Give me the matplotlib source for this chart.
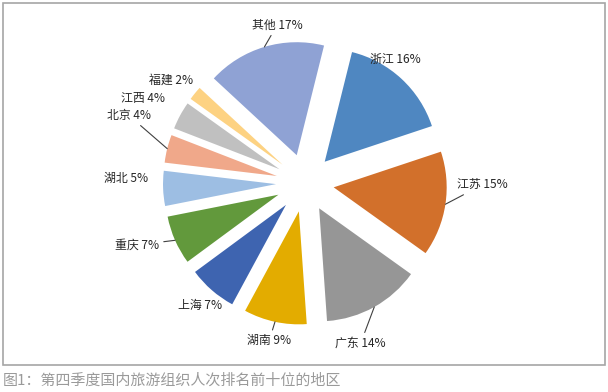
import numpy as np
import matplotlib
matplotlib.use('Agg')
import matplotlib.pyplot as plt
from matplotlib.patches import Rectangle

plt.rcParams['font.family'] = ['Noto Sans CJK SC', 'DejaVu Sans']

# share of domestic tour groups, Q4, top ten regions + others
regions = ['浙江', '江苏', '广东', '湖南', '上海', '重庆', '湖北', '北京', '江西', '福建', '其他']
shares = [16, 15, 14, 9, 7, 7, 5, 4, 4, 2, 17]
colors = ['#4f87c1', '#d2702b', '#969696', '#e3ac00', '#3e64b0', '#62993c',
          '#9dbee3', '#f0a88a', '#c0c0c0', '#fdd282', '#8fa2d4']
caption = '图1：第四季度国内旅游组织人次排名前十位的地区'

# label placement (radius multiples / angle shift in degrees) and leader line flags
lab_dist = [1.35, 1.57, 1.50, 1.43, 1.43, 1.58, 1.58, 1.67, 1.62, 1.49, 1.42]
lab_shift = [6.6, 8, -10, -0.6, 0.5, -3.5, -3.8, -7.0, 0.9, 1.7, -6.6]
leader = [False, True, True, True, False, True, False, True, False, False, True]

W, H = 608, 392
fig = plt.figure(figsize=(W / 100, H / 100), dpi=100)
ax = fig.add_axes([0, 0, 1, 1])

cx, cy, R = 305, H - 183, 113
wedges, _ = ax.pie(shares, colors=colors, startangle=76, counterclock=False,
                   center=(cx, cy), radius=R, explode=[29] * len(shares),
                   wedgeprops=dict(linewidth=0))

for w, name, val, d, sh, ld in zip(wedges, regions, shares, lab_dist, lab_shift, leader):
    mid = np.deg2rad((w.theta1 + w.theta2) / 2)
    ang = mid + np.deg2rad(sh)
    tx = cx + d * R * np.cos(ang)
    ty = cy + d * R * np.sin(ang)
    ox = w.center[0] + R * np.cos(mid)
    oy = w.center[1] + R * np.sin(mid)
    txt = f'{name} {val}%'
    if ld:
        ax.annotate(txt, xy=(ox, oy), xytext=(tx, ty), ha='center', va='center',
                    fontsize=8.6, color='#262626',
                    arrowprops=dict(arrowstyle='-', color='#404040', lw=0.8,
                                    shrinkA=1, shrinkB=0))
    else:
        ax.text(tx, ty, txt, ha='center', va='center', fontsize=8.6, color='#262626')

ax.add_patch(Rectangle((3, H - 365), 602, 362, fill=False, ec='#a6a6a6', lw=1.2))
ax.text(3, H - 381, caption, ha='left', va='center', fontsize=10.8, color='#9a9a9a')

ax.set_xlim(0, W)
ax.set_ylim(0, H)
ax.set_aspect('equal')
ax.axis('off')

fig.savefig('out.png', dpi=100)
